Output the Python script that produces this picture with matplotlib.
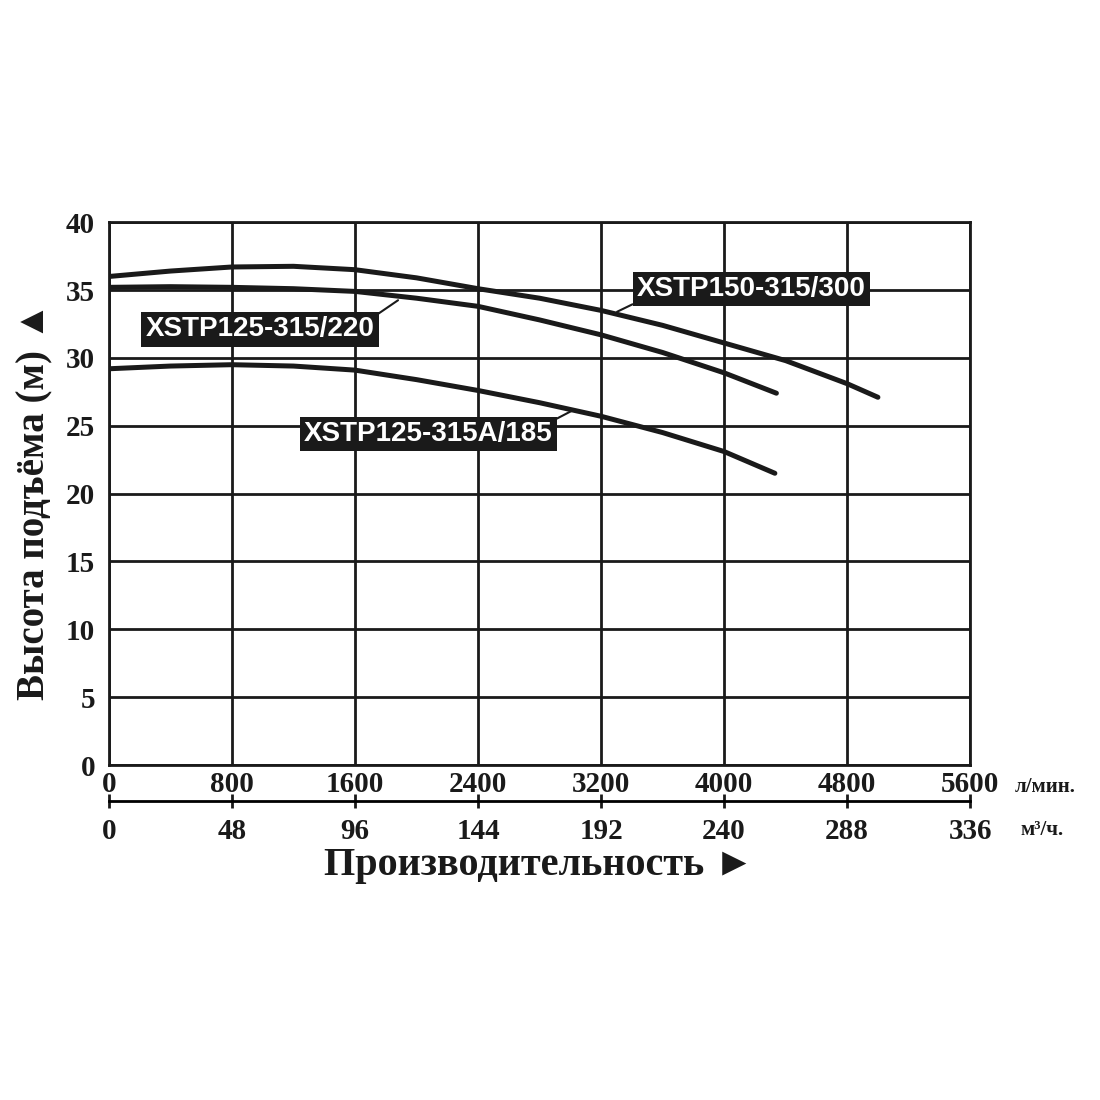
import matplotlib
matplotlib.use("Agg")
import numpy as np
import matplotlib.pyplot as plt

# ---------------------------------------------------------------------------
# Data (flow in l/min, head in m)
# ---------------------------------------------------------------------------
Q_300 = [0, 400, 800, 1200, 1600, 2000, 2400, 2800, 3200, 3600, 4000, 4400, 4800, 5000]
H_300 = [36.0, 36.4, 36.7, 36.75, 36.5, 35.9, 35.1, 34.4, 33.5, 32.4, 31.1, 29.8, 28.1, 27.1]

Q_220 = [0, 400, 800, 1200, 1600, 2000, 2400, 2800, 3200, 3600, 4000, 4340]
H_220 = [35.2, 35.25, 35.2, 35.1, 34.9, 34.4, 33.8, 32.8, 31.7, 30.4, 28.9, 27.4]

Q_185 = [0, 400, 800, 1200, 1600, 2000, 2400, 2800, 3200, 3600, 4000, 4330]
H_185 = [29.2, 29.4, 29.5, 29.4, 29.1, 28.4, 27.6, 26.7, 25.7, 24.5, 23.1, 21.5]

NAMES = ["XSTP150-315/300", "XSTP125-315/220", "XSTP125-315A/185"]

X_TICKS = [0, 800, 1600, 2400, 3200, 4000, 4800, 5600]
M3H_TICKS = [0, 48, 96, 144, 192, 240, 288, 336]
Y_TICKS = [0, 5, 10, 15, 20, 25, 30, 35, 40]

# label box centre, point on curve for the leader line, leader corner of box
LABELS = [
    ((4176, 35.06), (3304, 33.4), (0.0, 0.0)),
    ((982, 32.1), (1880, 34.25), (1.0, 1.0)),
    ((2075, 24.4), (3018, 26.15), (1.0, 1.0)),
]

SERIF = ["Liberation Serif", "DejaVu Serif"]
INK = "#1a1a1a"

fig = plt.figure(figsize=(11, 11), dpi=100)
ax = fig.add_axes([0.099, 0.3045, 0.783, 0.4935])

for q, h in ((Q_300, H_300), (Q_220, H_220), (Q_185, H_185)):
    ax.plot(q, h, color=INK, lw=3.6, solid_capstyle="round", zorder=3)

ax.set_xlim(0, 5600)
ax.set_ylim(0, 40)
ax.set_xticks(X_TICKS)
ax.set_yticks(Y_TICKS)
ax.grid(True, color=INK, lw=2)
ax.set_axisbelow(True)
for s in ax.spines.values():
    s.set_linewidth(2)
    s.set_color(INK)

ax.tick_params(axis="both", length=0, labelsize=21, colors=INK)
ax.tick_params(axis="x", pad=4)
ax.tick_params(axis="y", pad=10)
for lbl in ax.get_xticklabels() + ax.get_yticklabels():
    lbl.set_family(SERIF)
    lbl.set_fontweight("bold")

# second flow scale in m3/h
sec = ax.secondary_xaxis("bottom", functions=(lambda x: x * 0.06, lambda x: x / 0.06))
sec.spines["bottom"].set_position(("outward", 26))
sec.spines["bottom"].set_linewidth(2)
sec.set_xticks(M3H_TICKS)
sec.tick_params(axis="x", direction="inout", length=10, width=2, pad=7,
                labelsize=21, colors=INK)
for lbl in sec.get_xticklabels():
    lbl.set_family(SERIF)
    lbl.set_fontweight("bold")

ax.text(1.052, -0.04, "л/мин.", transform=ax.transAxes, fontsize=15,
        fontweight="bold", family=SERIF, ha="left", va="center", color=INK)
ax.text(1.058, -0.12, "м³/ч.", transform=ax.transAxes, fontsize=15,
        fontweight="bold", family=SERIF, ha="left", va="center", color=INK)

ax.text(0.50, -0.185, "Производительность ►", transform=ax.transAxes, fontsize=29,
        fontweight="bold", family=SERIF, ha="center", va="center", color=INK)
fig.text(0.032, 0.545, "Высота подъёма (м) ▲", rotation=90, fontsize=28,
         fontweight="bold", family=SERIF, ha="center", va="center", color=INK)

for name, (txt_xy, pt_xy, corner) in zip(NAMES, LABELS):
    ax.annotate(name, xy=pt_xy, xytext=txt_xy, ha="center", va="center",
                fontsize=20, fontweight="bold", family=["Liberation Sans", "DejaVu Sans"],
                color="white", zorder=5,
                bbox=dict(boxstyle="square,pad=0.15", fc=INK, ec="none"),
                arrowprops=dict(arrowstyle="-", color=INK, lw=1.5,
                                shrinkA=0, shrinkB=0, relpos=corner))

fig.savefig("out.png", dpi=100, facecolor="white")
